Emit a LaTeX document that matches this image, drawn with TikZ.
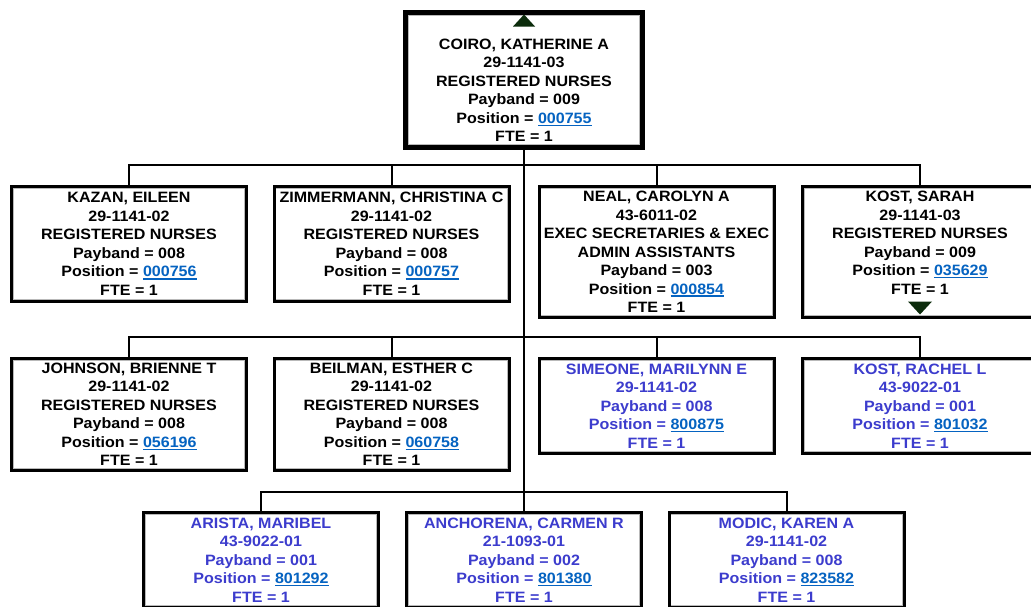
\documentclass[tikz,border=0pt]{standalone}
\usepackage{fontspec}
\setmainfont{Liberation Sans}[FakeStretch=1.07]
\usetikzlibrary{calc}

\definecolor{empblue}{RGB}{60,60,205}
\definecolor{linkblue}{RGB}{5,99,193}
\definecolor{markgreen}{RGB}{12,44,12}

\newcommand\empfont{\fontsize{15}{18.5}\selectfont\bfseries}
% position number shown as an underlined link
\newcommand\lnk[1]{\setbox0\hbox{#1}\textcolor{linkblue}{\rlap{\rule[-2.6pt]{\wd0}{1.5pt}}\box0}}

\tikzset{
  conn/.style={line width=2pt, black},
  emp/.style={draw=black, line width=3pt, fill=white, inner sep=0pt, align=center,
    font=\empfont, minimum width=235pt,
    path picture={\draw[gray!55, line width=1pt]
      ([shift={(1.9pt,1.9pt)}]path picture bounding box.south west) rectangle
      ([shift={(-1.9pt,-1.9pt)}]path picture bounding box.north east);}},
  headbox/.style={emp, line width=5pt, minimum width=237pt, minimum height=135pt,
    path picture={\draw[gray!55, line width=1pt]
      ([shift={(3pt,3pt)}]path picture bounding box.south west) rectangle
      ([shift={(-3pt,-3pt)}]path picture bounding box.north east);}},
  vacant/.style={emp, text=empblue},
  marker/.style={fill=markgreen}
}

\begin{document}
\begin{tikzpicture}[x=1pt, y=-1pt]
\useasboundingbox (0,0) rectangle (1031,606);
\clip (0,0) rectangle (1031,606);

% head of the unit
\node[headbox] (coiro) at (524,80)
  {\strut\\COIRO, KATHERINE A\\29-1141-03\\REGISTERED NURSES\\Payband = 009\\Position = \lnk{000755}\\FTE = 1};

% first row
\node[emp, minimum height=115pt] (kazan) at (129,244)
  {KAZAN, EILEEN\\29-1141-02\\REGISTERED NURSES\\Payband = 008\\Position = \lnk{000756}\\FTE = 1};
\node[emp, minimum height=115pt] (zimm) at (391.5,244)
  {ZIMMERMANN, CHRISTINA C\\29-1141-02\\REGISTERED NURSES\\Payband = 008\\Position = \lnk{000757}\\FTE = 1};
\node[emp, minimum height=131pt] (neal) at (656.5,252)
  {NEAL, CAROLYN A\\43-6011-02\\EXEC SECRETARIES \& EXEC\\ADMIN ASSISTANTS\\Payband = 003\\Position = \lnk{000854}\\FTE = 1};
\node[emp, minimum height=131pt] (kosts) at (920,252)
  {KOST, SARAH\\29-1141-03\\REGISTERED NURSES\\Payband = 009\\Position = \lnk{035629}\\FTE = 1\\\mbox{}};

% second row
\node[emp, minimum height=112pt] (johnson) at (129,414.5)
  {JOHNSON, BRIENNE T\\29-1141-02\\REGISTERED NURSES\\Payband = 008\\Position = \lnk{056196}\\FTE = 1};
\node[emp, minimum height=112pt] (beilman) at (391.5,414.5)
  {BEILMAN, ESTHER C\\29-1141-02\\REGISTERED NURSES\\Payband = 008\\Position = \lnk{060758}\\FTE = 1};
\node[vacant, minimum height=95pt] (simeone) at (656.5,406)
  {SIMEONE, MARILYNN E\\29-1141-02\\Payband = 008\\Position = \lnk{800875}\\FTE = 1};
\node[vacant, minimum height=95pt] (kostr) at (920,406)
  {KOST, RACHEL L\\43-9022-01\\Payband = 001\\Position = \lnk{801032}\\FTE = 1};

% third row
\node[vacant, minimum height=95pt] (arista) at (261,560)
  {ARISTA, MARIBEL\\43-9022-01\\Payband = 001\\Position = \lnk{801292}\\FTE = 1};
\node[vacant, minimum height=95pt] (anch) at (524,560)
  {ANCHORENA, CARMEN R\\21-1093-01\\Payband = 002\\Position = \lnk{801380}\\FTE = 1};
\node[vacant, minimum height=95pt] (modic) at (786.5,560)
  {MODIC, KAREN A\\29-1141-02\\Payband = 008\\Position = \lnk{823582}\\FTE = 1};

% expand / collapse markers
\fill[marker] ($(coiro.north)+(0,4.5)$) -- ++(-11,12) -- ++(22,0) -- cycle;
\fill[marker] ($(kosts.south)+(-12,-17.5)$) -- ++(24,0) -- ++(-12,13) -- cycle;

% reporting lines
\coordinate (bus1) at (524,165);
\coordinate (bus2) at (524,337);
\coordinate (bus3) at (524,492);
\draw[conn] (coiro.south) -- (bus3);
\draw[conn] (bus1) -| (kazan.north);
\draw[conn] (bus1) -| (zimm.north);
\draw[conn] (bus1) -| (neal.north);
\draw[conn] (bus1) -| (kosts.north);
\draw[conn] (bus2) -| (johnson.north);
\draw[conn] (bus2) -| (beilman.north);
\draw[conn] (bus2) -| (simeone.north);
\draw[conn] (bus2) -| (kostr.north);
\draw[conn] (bus3) -| (arista.north);
\draw[conn] (bus3) -- (anch.north);
\draw[conn] (bus3) -| (modic.north);
\end{tikzpicture}
\end{document}
